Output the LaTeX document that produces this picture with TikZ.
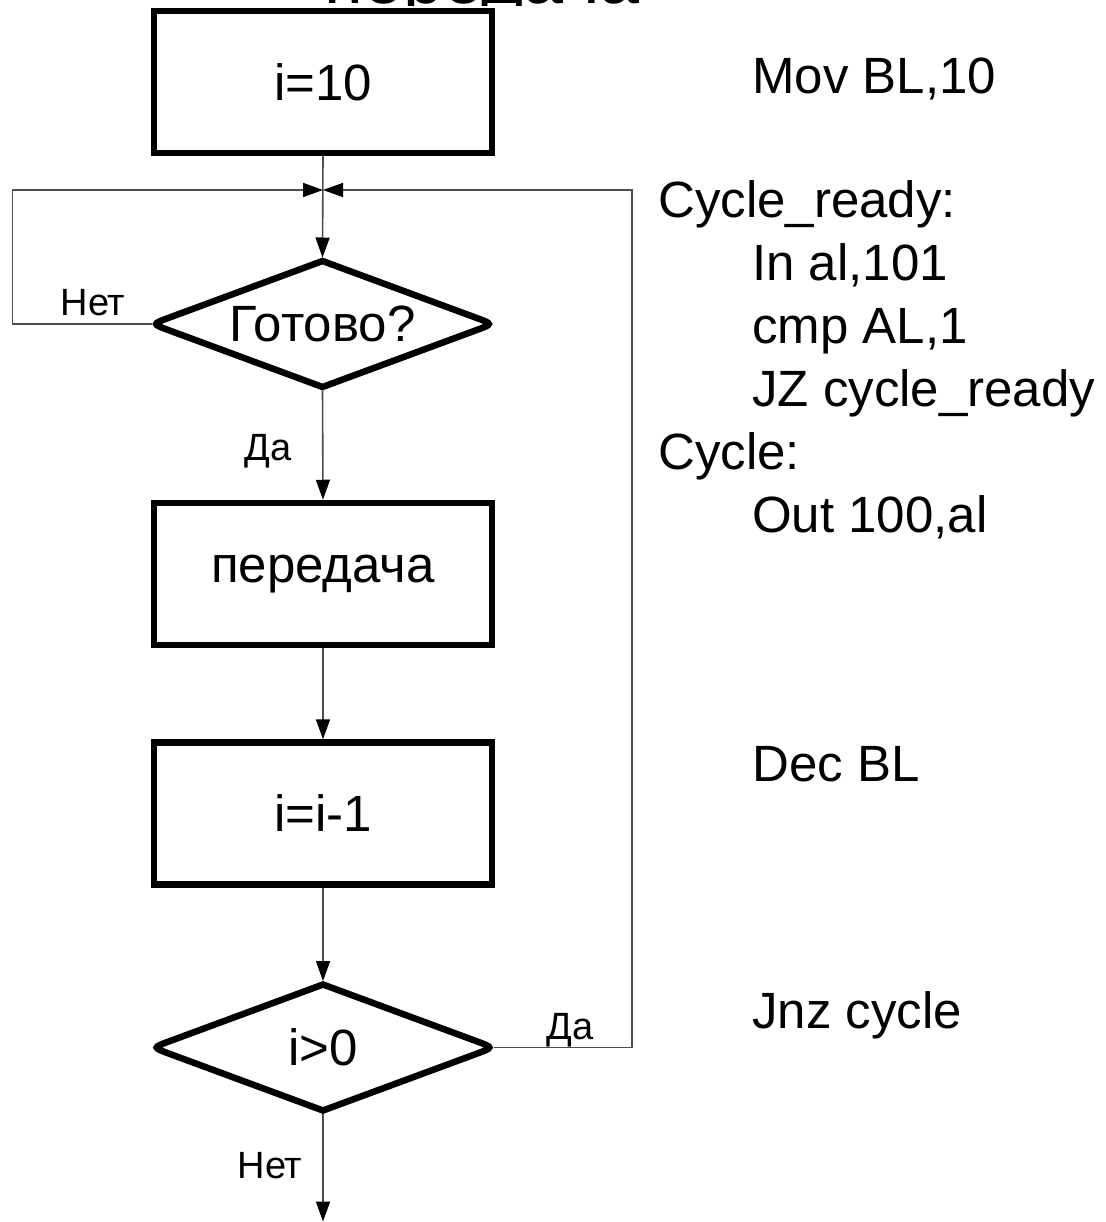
\documentclass[tikz,border=0pt]{standalone}
\usepackage{fontspec}
\setmainfont{Liberation Sans}
\usetikzlibrary{shapes.geometric,arrows.meta,calc}

\newcommand{\bigtext}{\fontsize{51}{60}\selectfont}
\newcommand{\labeltext}{\fontsize{38}{44}\selectfont}
\newcommand{\titletext}{\fontsize{72}{84}\selectfont}

\tikzset{
  procbox/.style={draw, line width=6.5pt, minimum width=338pt, minimum height=142pt,
    inner sep=0pt, font=\bigtext},
  decision/.style={diamond, aspect=2.7, minimum width=341pt, minimum height=126pt,
    inner sep=0pt, outer sep=0pt, font=\bigtext},
  outline/.style={draw, line width=6.5pt, line join=miter},
  conn/.style={line width=1.6pt, draw=black!70,
    -{Triangle[length=20pt,width=14pt,color=black]}},
  branch/.style={font=\labeltext, inner sep=0pt, anchor=base},
  code/.style={font=\bigtext, inner sep=0pt, anchor=base west},
}

% diamond outline: pointed top and bottom, softened left and right tips
\newcommand{\decisionoutline}[1]{%
  \draw[outline] (#1.north)
    -- ($(#1.east)!18pt!(#1.north)$) .. controls (#1.east) .. ($(#1.east)!18pt!(#1.south)$)
    -- (#1.south)
    -- ($(#1.west)!18pt!(#1.south)$) .. controls (#1.west) .. ($(#1.west)!18pt!(#1.north)$)
    -- cycle;}

\begin{document}
\begin{tikzpicture}[x=1pt, y=-1pt]
  \useasboundingbox (0,0) rectangle (1105,1222);
  \fill[white] (0,0) rectangle (1105,1222);

  % slide heading, only its lowest edge shows above the chart
  \begin{scope}
    \clip (0,0) rectangle (1105,5.5);
    \node[font=\titletext, inner sep=0pt, anchor=base west] (title) at (324,4) {передача};
  \end{scope}

  % flowchart blocks
  \node[procbox]  (init) at (323,82)     {i=10};
  \node[decision] (ready) at (322.5,324) {Готово?};
  \node[procbox]  (send) at (323,574)    {передача};
  \node[procbox]  (dec)  at (323,813.5)  {i=i-1};
  \node[decision] (test) at (323,1047.5) {i>0};
  \decisionoutline{ready}
  \decisionoutline{test}

  % helper points for the loops and the exit
  \coordinate (join) at (323,190);
  \coordinate (lx) at (12.5,0);
  \coordinate (rx) at (632,0);
  \coordinate (exit) at (323,1221.5);

  % main flow
  \draw[conn] (init.south) -- ([yshift=3.5pt]ready.north);
  \draw[conn] ([yshift=-3.5pt]ready.south) -- (send.north);
  \draw[conn] (send.south) -- (dec.north);
  \draw[conn] (dec.south) -- ([yshift=3.5pt]test.north);
  \draw[conn] ([yshift=-3.5pt]test.south) -- (exit);

  % waiting loop and repeat loop
  \draw[conn] (ready.west) -- (ready.west -| lx) |- (join);
  \draw[conn] (test.east) -- (test.east -| rx) |- (join);

  % branch labels
  \node[branch] (noready) at (93,316)   {Нет};
  \node[branch] (yesready) at (268,460) {Да};
  \node[branch] (yestest) at (570,1039) {Да};
  \node[branch] (notest) at (270,1178)  {Нет};

  % assembler listing
  \node[code] (c1) at (752,94)   {Mov BL,10};
  \node[code] (c2) at (658,218)  {Cycle\_ready:};
  \node[code] (c3) at (752,281)  {In al,101};
  \node[code] (c4) at (752,343)  {cmp AL,1};
  \node[code] (c5) at (752,406)  {JZ cycle\_ready};
  \node[code] (c6) at (658,469)  {Cycle:};
  \node[code] (c7) at (752,532)  {Out 100,al};
  \node[code] (c8) at (752,781)  {Dec BL};
  \node[code] (c9) at (752,1028) {Jnz cycle};
\end{tikzpicture}
\end{document}
